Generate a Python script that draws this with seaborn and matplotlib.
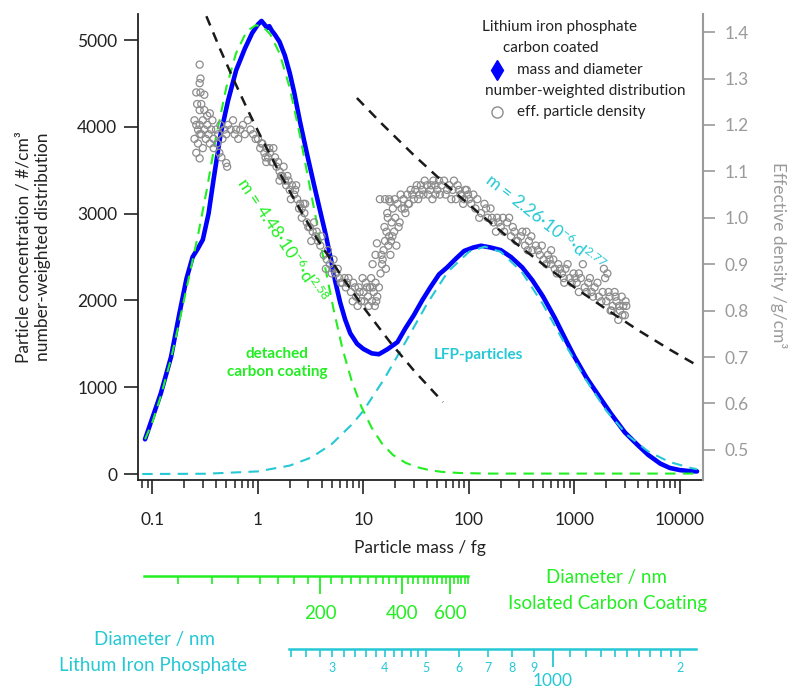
import numpy as np
import seaborn as sns
import matplotlib.pyplot as plt
from matplotlib.lines import Line2D
from matplotlib.ticker import LogLocator, NullFormatter, FormatStrFormatter

# number-weighted distribution (blue), particle mass / fg vs #/cm3
dist_mass = [0.085, 0.10, 0.12, 0.15, 0.18, 0.21, 0.24, 0.27, 0.30, 0.34, 0.38, 0.44, 0.52, 0.62, 0.75, 0.88,
             1.0, 1.08, 1.15, 1.22, 1.28, 1.35, 1.45, 1.6, 1.8, 2.0, 2.2, 2.5, 2.9, 3.4, 3.9, 4.4, 4.9, 5.4,
             6.0, 6.7, 7.5, 8.7, 10, 12, 14, 17, 21, 25, 30, 36, 43, 52, 62, 75, 90, 110, 130, 160, 200, 250,
             320, 400, 500, 650, 800, 1000, 1300, 1700, 2200, 3000, 4000, 5000, 6500, 8000, 10000, 12000, 14500]
dist_conc = [400, 650, 930, 1350, 1850, 2250, 2500, 2600, 2700, 3000, 3400, 3900, 4300, 4650, 4900, 5080,
             5180, 5220, 5180, 5140, 5160, 5110, 5060, 4980, 4820, 4620, 4400, 4060, 3700, 3330, 3020, 2750,
             2480, 2220, 1980, 1780, 1620, 1500, 1440, 1390, 1380, 1440, 1520, 1680, 1830, 2000, 2150, 2300,
             2380, 2480, 2570, 2610, 2630, 2610, 2580, 2500, 2380, 2230, 2050, 1800, 1580, 1350, 1110, 900,
             700, 480, 330, 220, 120, 70, 45, 35, 30]

# fitted mode: detached carbon coating (green dashed)
fit_cc_mass = [0.085, 0.10, 0.12, 0.15, 0.18, 0.22, 0.27, 0.33, 0.40, 0.50, 0.62, 0.78, 0.95, 1.1, 1.3, 1.6,
               2.0, 2.5, 3.0, 3.6, 4.3, 5.2, 6.3, 7.7, 9.5, 12, 15, 19, 25, 32, 42, 55, 80, 150, 14500]
fit_cc_conc = [400, 600, 900, 1330, 1760, 2250, 2750, 3300, 3880, 4450, 4850, 5100, 5170, 5160, 5070, 4850,
               4450, 3900, 3400, 2900, 2400, 1900, 1450, 1080, 780, 530, 350, 220, 130, 80, 45, 25, 12, 5, 5]

# fitted mode: LFP particles (cyan dashed)
fit_lfp_mass = [0.08, 0.32, 1.0, 2.0, 3.2, 5.0, 7.9, 10, 15.8, 25, 40, 63, 100, 141, 200, 316, 500, 794,
                1260, 2000, 3160, 5000, 7900, 12600, 14500]
fit_lfp_conc = [0, 3, 30, 97, 190, 345, 580, 730, 1100, 1520, 1960, 2330, 2560, 2620, 2560, 2330, 1960, 1520,
                1100, 730, 450, 260, 140, 70, 55]

# effective particle density / g/cm3 (grey circles), by region of the cloud
dens_left_m = [0.28, 0.285, 0.28, 0.26, 0.285, 0.31, 0.29, 0.265, 0.28, 0.31, 0.35,
               0.25, 0.26, 0.27, 0.28, 0.29, 0.30, 0.31, 0.32, 0.33, 0.34, 0.35, 0.36, 0.37, 0.38, 0.40, 0.42,
               0.44, 0.46, 0.25, 0.27, 0.30, 0.26, 0.28, 0.33, 0.38, 0.41, 0.43, 0.48, 0.50, 0.52, 0.55, 0.58,
               0.60, 0.62, 0.65, 0.68, 0.72, 0.75, 0.80, 0.85, 0.90, 0.95, 0.28, 0.50, 0.51, 0.45]
dens_left_r = [1.33, 1.30, 1.29, 1.27, 1.27, 1.265, 1.245, 1.245, 1.232, 1.232, 1.225,
               1.21, 1.20, 1.19, 1.20, 1.18, 1.21, 1.19, 1.17, 1.20, 1.18, 1.16, 1.19, 1.21, 1.17, 1.19, 1.18,
               1.20, 1.17, 1.17, 1.16, 1.15, 1.14, 1.18, 1.22, 1.15, 1.16, 1.14, 1.19, 1.18, 1.20, 1.19, 1.21,
               1.18, 1.19, 1.17, 1.19, 1.20, 1.18, 1.21, 1.19, 1.18, 1.17, 1.128, 1.118, 1.11, 1.13]
dens_fall_m = [1.0, 1.05, 1.1, 1.15, 1.2, 1.25, 1.3, 1.38, 1.45, 1.5, 1.6, 1.7, 1.8, 1.9, 2.0, 2.1, 2.2, 2.35,
               2.5, 2.6, 2.75, 2.9, 3.1, 3.3, 3.5, 3.7, 3.9, 4.2, 4.5, 4.8, 5.1, 5.5, 5.9, 6.3, 1.4, 1.75, 2.3,
               2.8, 3.4, 4.0, 1.2, 1.6, 2.05, 2.6, 3.2, 4.4, 5.2,
               1.08, 1.18, 1.28, 1.35, 1.55, 1.65, 1.85, 1.95, 2.25, 2.45, 2.7, 3.0, 3.6, 4.6, 5.0, 5.7, 6.1]
dens_fall_r = [1.17, 1.15, 1.16, 1.14, 1.15, 1.13, 1.14, 1.12, 1.13, 1.11, 1.10, 1.09, 1.08, 1.09, 1.06, 1.07,
               1.05, 1.04, 1.03, 1.02, 1.01, 0.99, 0.98, 0.97, 0.96, 0.95, 0.94, 0.92, 0.91, 0.90, 0.89, 0.88,
               0.87, 0.86, 1.15, 1.11, 1.07, 1.03, 0.99, 0.96, 1.12, 1.08, 1.04, 1.00, 0.95, 0.89, 0.91,
               1.16, 1.13, 1.15, 1.12, 1.12, 1.09, 1.07, 1.08, 1.06, 1.02, 1.03, 0.98, 0.97, 0.93, 0.88, 0.89, 0.86]
dens_valley_m = [6.8, 7.2, 7.6, 8.0, 8.5, 9.0, 9.5, 10, 10.5, 11, 11.5, 12, 12.5, 13, 13.5, 14, 9.8, 11.8, 12.8,
                 8.8, 7.0, 7.9, 8.3, 9.2, 10.2, 10.8, 11.2, 12.2, 13.2, 6.6]
dens_valley_r = [0.85, 0.87, 0.84, 0.86, 0.83, 0.85, 0.82, 0.84, 0.86, 0.83, 0.85, 0.82, 0.84, 0.86, 0.83, 0.85,
                 0.87, 0.87, 0.81, 0.81, 0.86, 0.82, 0.85, 0.84, 0.82, 0.85, 0.81, 0.85, 0.82, 0.87]
dens_rise_m = [14.5, 15, 15.5, 16, 16.5, 17, 17.5, 18, 18.5, 19, 19.5, 20, 21, 22, 23, 24, 25, 26, 27, 29, 31,
               33, 35, 37, 40, 16, 17.5, 15.2, 18.2, 20.5, 14.3, 17.8, 16.8, 12.2, 13.4, 13.0,
               14.8, 15.8, 16.3, 17.2, 18.8, 19.8, 21.5, 22.5, 24.5, 26.5, 28, 30, 32, 34, 36, 38, 41, 44, 48, 52]
dens_rise_r = [0.88, 0.90, 0.93, 0.95, 0.97, 1.00, 0.96, 0.92, 0.99, 1.02, 0.97, 1.00, 1.03, 0.99, 1.02, 1.04,
               1.01, 1.05, 1.03, 1.05, 1.06, 1.04, 1.07, 1.05, 1.07, 1.04, 1.04, 0.91, 0.95, 0.94, 1.04, 1.035,
               1.01, 0.90, 0.945, 0.92,
               0.92, 0.98, 0.89, 0.94, 0.96, 1.04, 0.98, 1.05, 1.02, 1.03, 1.06, 1.04, 1.07, 1.05, 1.06, 1.08,
               1.05, 1.07, 1.05, 1.08]
dens_top_m = [43, 46, 50, 55, 60, 65, 70, 75, 80, 85, 90, 95, 100, 45, 58, 68, 78, 88, 105, 110,
              62, 72, 83, 92, 98, 53, 48]
dens_top_r = [1.06, 1.08, 1.06, 1.07, 1.05, 1.07, 1.06, 1.04, 1.06, 1.05, 1.04, 1.06, 1.04, 1.04, 1.08, 1.04,
              1.07, 1.03, 1.03, 1.05, 1.06, 1.08, 1.05, 1.06, 1.05, 1.05, 1.07]
dens_tail_m = [115, 120, 130, 140, 150, 160, 170, 185, 200, 215, 230, 250, 270, 290, 310, 340, 370, 400, 430,
               470, 510, 560, 600, 650, 700, 760, 820, 900, 980, 1050, 1150, 1250, 1350, 1450, 1550, 1700,
               1850, 2000, 2150, 2300, 2500, 2700, 2900, 3000, 2600, 2800, 1900, 1950, 2050, 1200, 1100, 800,
               600, 350, 240, 180, 2400, 3050, 2200,
               125, 145, 165, 190, 210, 260, 280, 320, 360, 390, 450, 490, 540, 580, 630, 680, 730, 790, 860,
               940, 1020, 1100, 1300, 1400, 1500, 1650, 1800, 2100, 2250, 2450, 2650, 2850, 3100]
dens_tail_r = [1.02, 1.04, 1.01, 1.03, 1.00, 1.02, 0.99, 1.00, 0.98, 0.97, 0.99, 0.96, 0.97, 0.95, 0.96, 0.94,
               0.95, 0.93, 0.94, 0.92, 0.91, 0.92, 0.90, 0.89, 0.90, 0.88, 0.89, 0.87, 0.88, 0.86, 0.87, 0.85,
               0.86, 0.84, 0.85, 0.83, 0.84, 0.82, 0.83, 0.81, 0.82, 0.80, 0.81, 0.79, 0.78, 0.83, 0.89, 0.87,
               0.88, 0.90, 0.84, 0.86, 0.93, 0.97, 1.00, 0.97, 0.84, 0.82, 0.80,
               1.00, 1.02, 1.00, 0.99, 1.00, 0.98, 0.95, 0.97, 0.93, 0.96, 0.93, 0.94, 0.90, 0.91, 0.91, 0.88,
               0.89, 0.87, 0.90, 0.86, 0.87, 0.88, 0.84, 0.87, 0.83, 0.86, 0.82, 0.84, 0.80, 0.83, 0.81, 0.79,
               0.81]

# power-law density fits (black dashed)
pl1_mass = [0.28, 0.436, 0.6, 0.8, 1.04, 1.5, 2.15, 3.6, 6.0, 10, 18, 30, 56.7]
pl1_rho = [1.469, 1.364, 1.293, 1.232, 1.179, 1.109, 1.044, 0.956, 0.879, 0.807, 0.731, 0.671, 0.603]
pl2_mass = [8.66, 15, 30, 60, 120, 250, 500, 1000, 2000, 4000, 8000, 14500]
pl2_rho = [1.258, 1.202, 1.135, 1.072, 1.013, 0.953, 0.900, 0.850, 0.803, 0.758, 0.716, 0.682]

# m = a * d^b fit for the carbon coating (drives the green diameter axis)
cc_a, cc_b = 4.48e-6, 2.58

dens_mass = dens_left_m + dens_fall_m + dens_valley_m + dens_rise_m + dens_top_m + dens_tail_m
dens_rho = dens_left_r + dens_fall_r + dens_valley_r + dens_rise_r + dens_top_r + dens_tail_r

sns.set_theme(style='ticks')
plt.rcParams['font.family'] = ['Lato', 'DejaVu Sans']
plt.rcParams['mathtext.default'] = 'regular'

GREEN = '#22ee22'
CYAN = '#25c8d4'
BLUE = '#0000ff'
GRAY = '#8c8c8c'
AXGRAY = '#9a9a9a'
INK = '#222222'

W, H = 793, 692
fig = plt.figure(figsize=(W / 100, H / 100), dpi=100)


def box(x0, y0, x1, y1):
    return [x0 / W, 1 - y1 / H, (x1 - x0) / W, (y1 - y0) / H]


def pt(x, y):
    return x / W, 1 - y / H


AX_L, AX_R = 138, 703
XLO, XHI = 0.0729, 16520

ax = fig.add_axes(box(AX_L, 14, AX_R, 480))
ax.set_xscale('log')
ax.set_xlim(XLO, XHI)
ax.set_ylim(-69, 5300)

sns.lineplot(x=dist_mass, y=dist_conc, ax=ax, color=BLUE, linewidth=3.3, sort=False, legend=False)
sns.lineplot(x=fit_cc_mass, y=fit_cc_conc, ax=ax, color=GREEN, linewidth=1.5,
             linestyle=(0, (5, 3.5)), sort=False, legend=False)
sns.lineplot(x=fit_lfp_mass, y=fit_lfp_conc, ax=ax, color=CYAN, linewidth=1.5,
             linestyle=(0, (5, 3.5)), sort=False, legend=False)

ax2 = ax.twinx()
ax2.set_ylim(0.435, 1.439)
sns.scatterplot(x=dens_mass, y=dens_rho, ax=ax2, color=GRAY, s=26, linewidth=0.9, legend=False)
pts = ax2.collections[-1]
pts.set_facecolor('none')
pts.set_edgecolor(GRAY)
sns.lineplot(x=pl1_mass, y=pl1_rho, ax=ax2, color='#1a1a1a', linewidth=1.8,
             linestyle=(0, (4, 3)), sort=False, legend=False)
sns.lineplot(x=pl2_mass, y=pl2_rho, ax=ax2, color='#1a1a1a', linewidth=1.8,
             linestyle=(0, (4, 3)), sort=False, legend=False)
ax2.set_xlim(XLO, XHI)

# spines and ticks
ax.spines['top'].set_visible(False)
ax.spines['right'].set_visible(False)
ax.spines['left'].set_linewidth(1.3)
ax.spines['bottom'].set_linewidth(1.3)
ax.spines['left'].set_color(INK)
ax.spines['bottom'].set_color(INK)
for s in ['top', 'left', 'bottom']:
    ax2.spines[s].set_visible(False)
ax2.spines['right'].set_color(AXGRAY)
ax2.spines['right'].set_linewidth(1.5)

ax.set_xticks([0.1, 1, 10, 100, 1000, 10000])
ax.set_xticklabels(['0.1', '1', '10', '100', '1000', '10000'])
ax.xaxis.set_minor_locator(LogLocator(base=10, subs=np.arange(2, 10)))
ax.xaxis.set_minor_formatter(NullFormatter())
ax.tick_params(axis='x', which='major', length=10, width=1.2, labelsize=12.5, pad=13, colors=INK)
ax.tick_params(axis='x', which='minor', length=5.5, width=1.1, colors=INK)
ax.set_yticks([0, 1000, 2000, 3000, 4000, 5000])
ax.tick_params(axis='y', length=10, width=1.2, labelsize=12.5, pad=5, colors=INK)

ax2.set_yticks([0.5, 0.6, 0.7, 0.8, 0.9, 1.0, 1.1, 1.2, 1.3, 1.4])
ax2.yaxis.set_major_formatter(FormatStrFormatter('%.1f'))
ax2.tick_params(axis='y', length=8.5, width=1.2, labelsize=12.5, pad=7, colors=AXGRAY)

# axis labels
fig.text(*pt(33, 247), 'Particle concentration / #/cm³\nnumber-weighted distribution',
         rotation=90, ha='center', va='center', fontsize=12.5, linespacing=1.3, color=INK)
fig.text(*pt(778, 255), 'Effective density /g/cm³', rotation=-90, ha='center', va='center',
         fontsize=12.5, color=AXGRAY)
fig.text(*pt(420, 548), 'Particle mass / fg', ha='center', va='center', fontsize=12.5, color=INK)

# annotations
ax.text(1.69, 2696, 'm = 4.48·10$^{-6}$·d$^{2.58}$', rotation=-56, rotation_mode='anchor',
        ha='center', va='center', color=GREEN, fontsize=12.5)
ax.text(525, 2903, 'm = 2.26·10$^{-6}$·d$^{2.77}$', rotation=-38, rotation_mode='anchor',
        ha='center', va='center', color=CYAN, fontsize=12.5)
ax.text(1.51, 1280, 'detached\ncarbon coating', ha='center', va='center', color=GREEN,
        fontsize=11, fontweight='bold', linespacing=1.35)
ax.text(122, 1370, 'LFP-particles', ha='center', va='center', color=CYAN,
        fontsize=11, fontweight='bold')

# legend
fig.text(*pt(560, 27), 'Lithium iron phosphate', ha='center', va='center', fontsize=11, color=INK)
fig.text(*pt(551, 48), 'carbon coated', ha='center', va='center', fontsize=11, color=INK)
fig.add_artist(Line2D([497 / W], [1 - 70 / H], transform=fig.transFigure, marker='d',
                      color=BLUE, markersize=10, linestyle='none'))
fig.text(*pt(517, 70), 'mass and diameter', ha='left', va='center', fontsize=11, color=INK)
fig.text(*pt(585, 91), 'number-weighted distribution', ha='center', va='center', fontsize=11, color=INK)
fig.add_artist(Line2D([497 / W], [1 - 112 / H], transform=fig.transFigure, marker='o',
                      markerfacecolor='none', markeredgecolor=GRAY, markersize=8, linestyle='none'))
fig.text(*pt(517, 112), 'eff. particle density', ha='left', va='center', fontsize=11, color=INK)


def mass_px(m):
    return AX_L + (np.log10(m) - np.log10(XLO)) / (np.log10(XHI) - np.log10(XLO)) * (AX_R - AX_L)


def thin_axis(ax_, color):
    ax_.set_xscale('log')
    ax_.set_yticks([])
    ax_.patch.set_alpha(0)
    for s in ['top', 'left', 'right']:
        ax_.spines[s].set_visible(False)
    ax_.spines['bottom'].set_color(color)
    ax_.spines['bottom'].set_linewidth(1.8)


# green diameter axis (isolated carbon coating), tied to mass by the fit
gd0, gd1 = 45, 701
gx0 = mass_px(cc_a * gd0 ** cc_b)
gx1 = mass_px(cc_a * gd1 ** cc_b)
ax_g = fig.add_axes(box(gx0, 566, gx1, 576))
thin_axis(ax_g, GREEN)
ax_g.set_xlim(gd0, gd1)
g_major = [200, 400, 600]
g_minor = [d for d in range(60, 701, 20) if d not in g_major]
ax_g.set_xticks(g_major)
ax_g.set_xticklabels([str(d) for d in g_major])
ax_g.set_xticks(g_minor, minor=True)
ax_g.xaxis.set_minor_formatter(NullFormatter())
ax_g.tick_params(axis='x', which='major', length=13, width=1.3, labelsize=13.5, pad=8, colors=GREEN)
ax_g.tick_params(axis='x', which='minor', length=6, width=1.2, colors=GREEN)
fig.text(*pt(607, 577), 'Diameter / nm', ha='center', va='center', fontsize=13.5, color=GREEN)
fig.text(*pt(607, 603), 'Isolated Carbon Coating', ha='center', va='center', fontsize=13.5, color=GREEN)

# cyan diameter axis (lithium iron phosphate)
ax_l = fig.add_axes(box(289, 639, 696, 649))
thin_axis(ax_l, CYAN)
ax_l.set_xlim(237, 2182)
l_minor = list(range(240, 501, 20)) + [600, 700, 800, 900] + list(range(1100, 2001, 100))
l_names = {300: '3', 400: '4', 500: '5', 600: '6', 700: '7', 800: '8', 900: '9', 2000: '2'}
ax_l.set_xticks([1000])
ax_l.set_xticklabels(['1000'])
ax_l.set_xticks(l_minor, minor=True)
ax_l.set_xticklabels([l_names.get(d, '') for d in l_minor], minor=True)
ax_l.tick_params(axis='x', which='major', length=13, width=1.3, labelsize=12.5, pad=4, colors=CYAN)
ax_l.tick_params(axis='x', which='minor', length=5.5, width=1.2, labelsize=9, pad=4, colors=CYAN)
fig.text(*pt(154, 639), 'Diameter / nm', ha='center', va='center', fontsize=13.5, color=CYAN)
fig.text(*pt(153, 665), 'Lithum Iron Phosphate', ha='center', va='center', fontsize=13.5, color=CYAN)

fig.savefig('out.png', dpi=100)
